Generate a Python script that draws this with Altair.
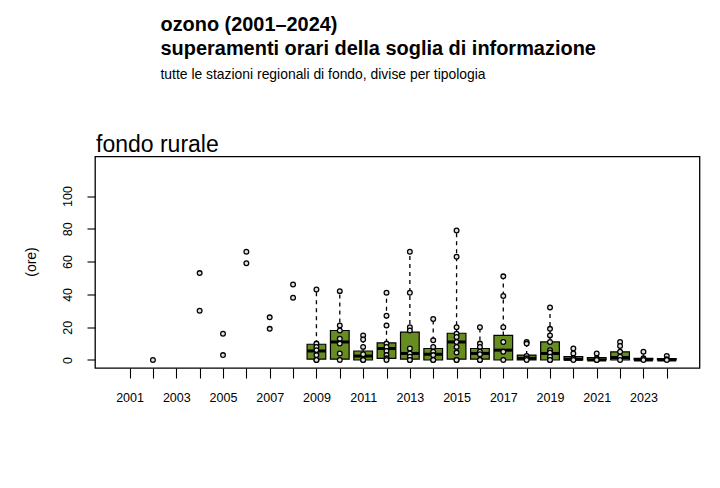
import altair as alt
import pandas as pd

# ---- data ----
point_years = [2002, 2004, 2005, 2006, 2007, 2008,
               2009, 2010, 2011, 2012, 2013, 2014, 2015, 2016,
               2017, 2018, 2019, 2020, 2021, 2022, 2023, 2024]
point_values = [
    [0],
    [53, 30],
    [16, 3],
    [66, 59],
    [26, 19],
    [46, 38],
    [43, 10, 8, 6, 3, 0, 0],
    [42, 21, 18, 13, 10, 4, 0],
    [15, 12.5, 8, 3.5, 0, 0],
    [41, 27, 21, 10, 8, 5.5, 3, 1, 0],
    [66, 41, 20, 18, 7, 4, 2, 0, 0],
    [25, 12, 8, 5, 3, 0, 0],
    [79, 63, 20, 16, 14, 11, 8, 4.5, 0, 0],
    [20, 10, 8, 5, 3.5, 0, 0],
    [51, 39, 20, 11, 5, 0],
    [11, 10, 2.5, 1, 0],
    [32, 19, 15, 11, 6, 4.5, 2, 0, 0],
    [7, 4, 1, 0],
    [4, 1, 0, 0],
    [11, 8.5, 5, 2, 0],
    [5, 1, 0],
    [2.5, 0.5, 0],
]

box_years = list(range(2009, 2025))
box_q1 = [0.5, 0.5, 0, 1, 0.5, 0, 0.5, 0.5, 0, 0, 0, 0, 0, 0, 0, 0]
box_med = [5.5, 11, 2.4, 7, 4, 3.5, 11, 4, 6, 1, 4, 0.4, 0, 1.5, 0, 0]
box_q3 = [9.6, 18, 5.5, 10.5, 17, 7, 16.3, 7, 15, 3, 11, 2, 1.5, 5, 1, 0.8]
box_hi = [43, 42, 15, 41, 66, 25, 79, 20, 51, 11, 32, 7, 4, 11, 5, 2.5]

tick_years = list(range(2001, 2025))
y_ticks = [0, 20, 40, 60, 80, 100]

title1 = "ozono (2001\u20132024)"
title2 = "superamenti orari della soglia di informazione"
subtitle = "tutte le stazioni regionali di fondo, divise per tipologia"
panel_title = "fondo rurale"
y_title = "(ore)"

# ---- tables ----
pts = pd.DataFrame(
    [{"year": y, "value": v} for y, vals in zip(point_years, point_values) for v in vals]
)
boxes = pd.DataFrame({"year": box_years, "q1": box_q1, "med": box_med,
                      "q3": box_q3, "hi": box_hi})

FONT = "Liberation Sans"
GREEN = "#678C20"

xscale = alt.Scale(domain=[1999.52, 2025.4], nice=False, zero=False, padding=0)
yscale = alt.Scale(domain=[-4.88, 124.1], nice=False, zero=False, padding=0)

X_axis = alt.Axis(values=tick_years, format="d",
                  labelExpr="datum.value % 2 == 1 ? datum.label : ''",
                  tickSize=10, tickColor="black", tickWidth=1.1,
                  domain=False, grid=False, labelFontSize=12.5,
                  labelFont=FONT, labelColor="black", labelPadding=23,
                  labelBaseline="alphabetic", labelFlush=False,
                  labelOverlap=False)
Y_axis = alt.Axis(values=y_ticks, labelAngle=270, labelAlign="center",
                  labelBaseline="alphabetic", labelPadding=15.5, tickSize=8,
                  tickColor="black", tickWidth=1.1, domain=False, grid=False,
                  labelFontSize=12.5, labelFont=FONT, labelColor="black")


def xq(field):
    return alt.X(field, type="quantitative", scale=xscale, axis=X_axis, title=None)


def yq(field):
    return alt.Y(field, type="quantitative", scale=yscale, axis=Y_axis, title=None)


whisk = alt.Chart(boxes).mark_rule(color="black", strokeWidth=1.3,
                                   strokeDash=[4, 4]).encode(
    x=xq("year"), y=yq("q3"), y2="hi:Q")

bars = alt.Chart(boxes).mark_bar(size=18.7, color=GREEN, stroke="black",
                                 strokeWidth=1.2).encode(
    x=xq("year"), y=yq("q1"), y2="q3:Q")

meds = alt.Chart(boxes).transform_calculate(
    x0="datum.year - 0.4", x1="datum.year + 0.4"
).mark_rule(color="black", strokeWidth=3).encode(
    x=xq("x0"), x2="x1:Q", y=yq("med"))

points = alt.Chart(pts).mark_point(shape="circle", filled=True, size=22,
                                   fill="#e0e0e0", stroke="black",
                                   strokeWidth=1.3, opacity=1).encode(
    x=xq("year"), y=yq("value"))

one = pd.DataFrame({"k": [0]})


def label(text, x, y, size, weight="normal", angle=0, align="left",
          baseline="alphabetic"):
    return alt.Chart(one).mark_text(
        text=text, font=FONT, fontSize=size, fontWeight=weight, color="black",
        align=align, baseline=baseline, angle=angle
    ).encode(x=alt.value(x), y=alt.value(y))


texts = [
    label(title1, 65.5, -125.5, 19.9, "bold"),
    label(title2, 65.5, -101.5, 19.95, "bold"),
    label(subtitle, 65.5, -77.5, 13.9),
    label(panel_title, 1, -4.5, 23),
    label(y_title, -63.5, 105.5, 14, angle=270, align="center",
          baseline="middle"),
]

chart = alt.layer(whisk, bars, meds, points, *texts).properties(
    width=604.5, height=211.5,
    autosize=alt.AutoSizeParams(type="none"),
    padding={"left": 87, "top": 148.5, "right": 12, "bottom": 100},
).configure(background="white").configure_view(stroke="black", strokeWidth=1.3)

chart.save("out.html", embed_options={"renderer": "svg", "actions": False})
